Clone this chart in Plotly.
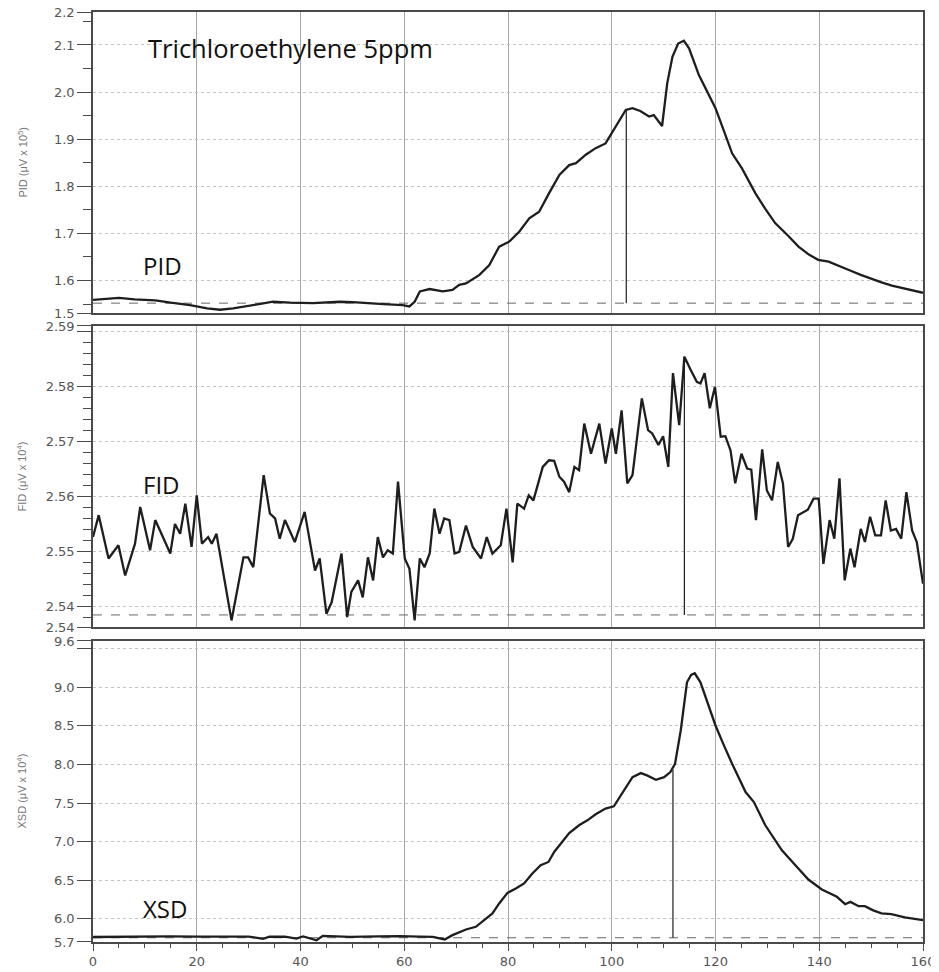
import plotly.graph_objects as go

# PID trace
pid_x = [0, 2, 5, 8, 12, 15, 18.7, 22, 24.5, 27, 29.6, 32, 34.7, 38, 42.4, 45, 47.6, 50,
         53.4, 56, 59.7, 61.0, 62.0, 63.0, 64.9, 67.4, 69.3, 70.6, 71.9, 74.5, 76.4, 78.3,
         80.3, 82.2, 84.1, 86.0, 87.9, 89.9, 91.8, 93.1, 95.0, 96.9, 98.8, 100.8, 102.7,
         104.0, 105.5, 107.2, 108.1, 109.7, 110.7, 111.7, 112.8, 113.9, 114.9, 116.8, 118.5,
         120.0, 121.6, 123.2, 125.1, 127.7, 129.6, 131.5, 134, 136.0, 138, 139.8, 141.8,
         143.7, 145.6, 148, 150.1, 152, 154.0, 156, 157.8, 160]
pid_y = [1.559, 1.561, 1.563, 1.560, 1.558, 1.553, 1.548, 1.541, 1.538, 1.541, 1.545, 1.550,
         1.555, 1.553, 1.552, 1.553, 1.555, 1.554, 1.551, 1.550, 1.548, 1.545, 1.555, 1.577,
         1.582, 1.577, 1.580, 1.591, 1.594, 1.612, 1.633, 1.672, 1.683, 1.704, 1.732, 1.746,
         1.785, 1.824, 1.845, 1.849, 1.867, 1.881, 1.891, 1.927, 1.962, 1.966, 1.960, 1.948,
         1.951, 1.928, 2.019, 2.075, 2.103, 2.109, 2.093, 2.036, 2.000, 1.966, 1.918, 1.870,
         1.838, 1.785, 1.752, 1.722, 1.695, 1.672, 1.655, 1.644, 1.640, 1.632, 1.623, 1.612,
         1.603, 1.596, 1.589, 1.584, 1.580, 1.574]

# FID trace
fid_x = [0, 1.1, 3.0, 4.9, 6.2, 8.1, 9.1, 11.0, 12.0, 14.9, 15.8, 16.8, 17.8, 19.0, 20.0,
         21.0, 22.2, 22.9, 23.8, 26.7, 29.0, 29.9, 30.9, 32.9, 34.1, 35.1, 36.0, 37.0, 38.9,
         40.8, 42.8, 43.7, 45.0, 46.0, 47.9, 49.0, 49.8, 51.1, 52.0, 53.0, 54.0, 54.9, 55.9,
         56.8, 57.8, 58.8, 60.1, 61.0, 62.0, 63.0, 63.9, 64.9, 65.8, 66.8, 67.7, 68.7, 69.7,
         70.6, 71.9, 73.2, 74.8, 75.9, 77.0, 78.6, 79.7, 80.9, 81.8, 83.1, 84.0, 84.9, 86.7,
         87.9, 88.9, 89.9, 90.8, 91.8, 92.8, 93.7, 94.7, 96.0, 97.6, 98.8, 100.0, 100.8,
         101.9, 103.0, 104.0, 105.8, 107.0, 107.8, 109.0, 109.9, 110.9, 111.8, 113.0, 114.0,
         115.2, 116.4, 117.1, 117.9, 118.9, 119.9, 121.0, 121.9, 122.9, 123.8, 125.0, 126.1,
         126.9, 127.8, 129.0, 129.9, 130.9, 132.0, 133.0, 134.0, 134.9, 135.9, 137.8, 138.9,
         139.9, 140.8, 142.0, 142.9, 143.9, 144.9, 146.0, 146.8, 148.0, 148.8, 149.8, 150.8,
         151.9, 152.8, 153.8, 154.8, 155.8, 156.8, 157.9, 158.8, 160]
fid_y = [2.5526, 2.5566, 2.5487, 2.5511, 2.5456, 2.5514, 2.5581, 2.5502, 2.5557, 2.5496,
         2.5550, 2.5532, 2.5587, 2.5508, 2.5602, 2.5514, 2.5526, 2.5514, 2.5532, 2.5374,
         2.5489, 2.5489, 2.5471, 2.5639, 2.5569, 2.5560, 2.5523, 2.5557, 2.5517, 2.5572,
         2.5465, 2.5487, 2.5386, 2.5407, 2.5496, 2.5380, 2.5426, 2.5447, 2.5416, 2.5489,
         2.5447, 2.5526, 2.5489, 2.5502, 2.5496, 2.5627, 2.5487, 2.5468, 2.5374, 2.5487,
         2.5471, 2.5496, 2.5578, 2.5532, 2.5560, 2.5557, 2.5496, 2.5499, 2.5547, 2.5508,
         2.5487, 2.5526, 2.5496, 2.5511, 2.5578, 2.5480, 2.5587, 2.5578, 2.5602, 2.5593,
         2.5654, 2.5666, 2.5665, 2.5636, 2.5627, 2.5608, 2.5654, 2.5648, 2.5733, 2.5678,
         2.5733, 2.5660, 2.5724, 2.5678, 2.5757, 2.5624, 2.5639, 2.5779, 2.5721, 2.5715,
         2.5694, 2.5710, 2.5654, 2.5825, 2.5730, 2.5855, 2.5831, 2.5809, 2.5806, 2.5825,
         2.5761, 2.5800, 2.5709, 2.5710, 2.5684, 2.5624, 2.5678, 2.5651, 2.5649, 2.5557,
         2.5686, 2.5611, 2.5593, 2.5663, 2.5624, 2.5508, 2.5523, 2.5566, 2.5576, 2.5596,
         2.5596, 2.5477, 2.5557, 2.5523, 2.5633, 2.5447, 2.5505, 2.5471, 2.5541, 2.5517,
         2.5563, 2.5529, 2.5529, 2.5593, 2.5538, 2.5541, 2.5523, 2.5608, 2.5538, 2.5517,
         2.5441]

# XSD trace
xsd_x = [0, 5, 10, 15, 20, 25, 30, 32.8, 34, 37, 39.2, 40.5, 43.1, 44.3, 49.5, 55, 59.1,
         63, 65.5, 67.8, 69.3, 71.9, 73.8, 75.4, 77.0, 78.3, 79.9, 81.5, 83.1, 84.7, 86.3,
         87.8, 88.9, 90.2, 91.8, 93.7, 95.3, 96.9, 98.8, 100.4, 102.4, 104.0, 105.6, 106.8,
         108.5, 110.1, 111.3, 112.2, 113.3, 114.5, 115.3, 116.0, 117.1, 118.5, 120.0, 121.6,
         123.2, 125.8, 127.4, 129.6, 132.8, 135.4, 137.9, 140.5, 143.4, 145.0, 146.0, 147.6,
         148.8, 150.4, 152.0, 153.9, 156.5, 160]
xsd_y = [5.765, 5.770, 5.768, 5.772, 5.770, 5.772, 5.770, 5.740, 5.768, 5.770, 5.745, 5.772,
         5.722, 5.780, 5.767, 5.772, 5.776, 5.770, 5.767, 5.733, 5.789, 5.862, 5.897, 5.983,
         6.070, 6.199, 6.336, 6.393, 6.458, 6.587, 6.694, 6.737, 6.866, 6.975, 7.112, 7.212,
         7.276, 7.354, 7.428, 7.457, 7.664, 7.836, 7.888, 7.858, 7.802, 7.836, 7.901, 8.009,
         8.440, 9.065, 9.160, 9.181, 9.065, 8.780, 8.505, 8.250, 8.009, 7.642, 7.513, 7.212,
         6.888, 6.694, 6.509, 6.380, 6.285, 6.190, 6.220, 6.164, 6.164, 6.110, 6.070, 6.061,
         6.018, 5.983]

# peak markers (retention time, top) and baselines
marker_x = [102.8, 114.0, 111.8]
marker_top = [1.962, 2.5855, 7.93]
baselines = [1.552, 2.5384, 5.755]

# axis ranges and ticks
y_ranges = [[1.531, 2.170], [2.5362, 2.5911], [5.7, 9.6]]
pid_ticks = [1.531, 1.6, 1.7, 1.8, 1.9, 2.0, 2.1, 2.170]
pid_labels = ["1.5", "1.6", "1.7", "1.8", "1.9", "2.0", "2.1", "2.2"]
fid_ticks = [2.5362, 2.54, 2.55, 2.56, 2.57, 2.58, 2.59, 2.5911]
fid_labels = ["2.54", "2.54", "2.55", "2.56", "2.57", "2.58", "", "2.59"]
xsd_ticks = [5.7, 6.0, 6.5, 7.0, 7.5, 8.0, 8.5, 9.0, 9.5, 9.6]
xsd_labels = ["5.7", "6.0", "6.5", "7.0", "7.5", "8.0", "8.5", "9.0", "", "9.6"]
x_ticks = [0, 20, 40, 60, 80, 100, 120, 140, 160]

detectors = ["PID", "FID", "XSD"]
y_titles = ["PID (μV x 10<sup>5</sup>)", "FID (μV x 10<sup>4</sup>)", "XSD (μV x 10<sup>4</sup>)"]

LINE = "#1e1e1e"
FRAME = "#4a4a4a"
TICKFONT = dict(family="DejaVu Sans", size=13, color="#555")

fig = go.Figure()
series = [(pid_x, pid_y), (fid_x, fid_y), (xsd_x, xsd_y)]
for i, (xs, ys) in enumerate(series):
    ax = "" if i == 0 else str(i + 1)
    # dashed baseline
    fig.add_trace(go.Scatter(x=[x_ticks[0], x_ticks[-1]], y=[baselines[i], baselines[i]],
                             mode="lines", line=dict(color="#666", width=1, dash="dash"),
                             xaxis="x" + ax, yaxis="y" + ax, hoverinfo="skip"))
    # peak marker
    fig.add_trace(go.Scatter(x=[marker_x[i], marker_x[i]], y=[baselines[i], marker_top[i]],
                             mode="lines", line=dict(color=LINE, width=1.2),
                             xaxis="x" + ax, yaxis="y" + ax, hoverinfo="skip"))
    fig.add_trace(go.Scatter(x=xs, y=ys, mode="lines", name=detectors[i],
                             line=dict(color=LINE, width=2.3),
                             xaxis="x" + ax, yaxis="y" + ax))

domains = [[0.6763, 1.0], [0.3387, 0.6624], [0.0, 0.3237]]
ytick_sets = [(pid_ticks, pid_labels, 0.05, 1.5), (fid_ticks, fid_labels, 0.002, 2.5),
              (xsd_ticks, xsd_labels, 0.5, 5.5)]

# page body has an 8px margin, so the figure is sized to fit inside the window
layout = dict(
    width=931, height=964,
    margin=dict(l=85, r=16, t=4, b=30),
    paper_bgcolor="white", plot_bgcolor="white",
    showlegend=False,
)
for i in range(3):
    ax = "" if i == 0 else str(i + 1)
    bottom = i == 2
    xa = dict(
        domain=[0, 1], range=[0, 160], anchor="y" + ax, automargin=False,
        showline=True, mirror=True, linecolor=FRAME, linewidth=1.5,
        showgrid=True, gridcolor="#a9a9a9", gridwidth=1,
        tickvals=x_ticks, zeroline=False, ticklabeloverflow="allow",
        showticklabels=bottom, tickfont=TICKFONT,
        ticks="outside" if bottom else "", ticklen=7, tickcolor=FRAME,
    )
    if bottom:
        xa["minor"] = dict(dtick=5, tick0=0, ticks="outside", ticklen=4, tickcolor=FRAME,
                           showgrid=False)
    if i > 0:
        xa["matches"] = "x"
    tv, tt, mdt, m0 = ytick_sets[i]
    ya = dict(
        domain=domains[i], range=y_ranges[i], anchor="x" + ax, automargin=False,
        showline=True, mirror=True, linecolor=FRAME, linewidth=1.5,
        showgrid=True, gridcolor="#c4c4c4", gridwidth=1, griddash="dot",
        tickvals=tv, ticktext=tt, tickfont=TICKFONT, zeroline=False,
        ticklabeloverflow="allow",
        ticks="outside", ticklen=14, tickcolor=FRAME,
        minor=dict(dtick=mdt, tick0=m0, ticks="outside", ticklen=8, tickcolor=FRAME,
                   showgrid=False),
    )
    layout["xaxis" + ax] = xa
    layout["yaxis" + ax] = ya

fig.update_layout(**layout)

# rotated y titles
for i in range(3):
    ax = "" if i == 0 else str(i + 1)
    fig.add_annotation(text=y_titles[i], xref="paper", yref="y" + ax + " domain",
                       x=-0.0855, y=0.5, xanchor="center", yanchor="middle",
                       textangle=-90, showarrow=False,
                       font=dict(family="Liberation Sans Narrow, Liberation Sans", size=11,
                                 color="#777"))

LABELFONT = dict(family="Open Sans", size=24, color="#111")
fig.add_annotation(text="Trichloroethylene 5ppm", xref="x", yref="y", x=10.2, y=2.094,
                   xanchor="left", yanchor="middle", showarrow=False,
                   font=dict(family="Open Sans", size=25.5, color="#111"))
fig.add_annotation(text=detectors[0], xref="x", yref="y", x=9.3, y=1.631,
                   xanchor="left", yanchor="middle", showarrow=False, font=LABELFONT)
fig.add_annotation(text=detectors[1], xref="x2", yref="y2", x=9.3, y=2.5622,
                   xanchor="left", yanchor="middle", showarrow=False, font=LABELFONT)
fig.add_annotation(text=detectors[2], xref="x3", yref="y3", x=9.3, y=6.138,
                   xanchor="left", yanchor="middle", showarrow=False, font=LABELFONT)

fig.write_html("out.html")
